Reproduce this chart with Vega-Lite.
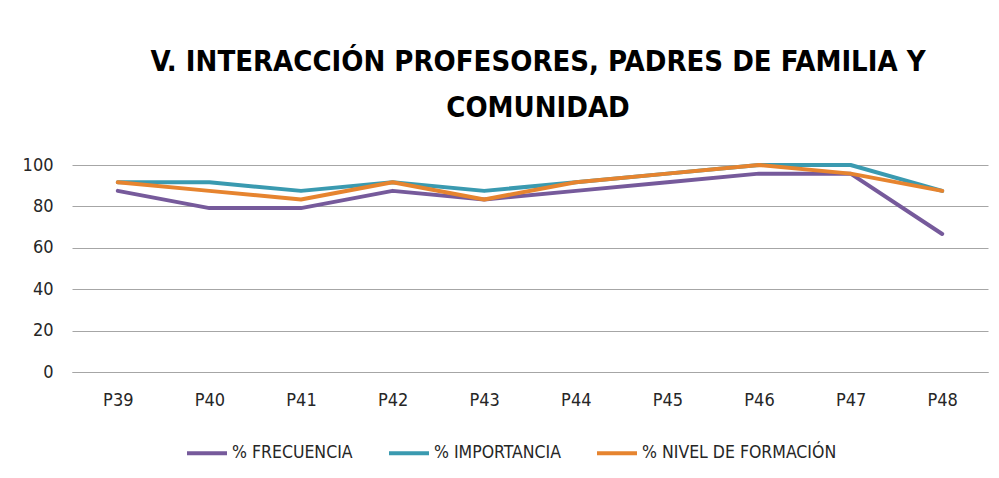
{
  "$schema": "https://vega.github.io/schema/vega-lite/v6.json",
  "autosize": {"type": "none"},
  "width": 916,
  "height": 207,
  "padding": {"left": 72, "top": 165, "right": 11, "bottom": 106},
  "background": "white",
  "title": {
    "text": ["V. INTERACCIÓN PROFESORES, PADRES DE FAMILIA Y", "COMUNIDAD"],
    "anchor": "middle",
    "font": "DejaVu Sans Condensed, sans-serif",
    "fontSize": 29,
    "fontWeight": "bold",
    "color": "#000000",
    "lineHeight": 46,
    "dx": 8,
    "offset": 33
  },
  "data": {
    "values": [
      {"p": "P39", "serie": "% FRECUENCIA", "v": 87.5},
      {"p": "P40", "serie": "% FRECUENCIA", "v": 79.17},
      {"p": "P41", "serie": "% FRECUENCIA", "v": 79.17},
      {"p": "P42", "serie": "% FRECUENCIA", "v": 87.5},
      {"p": "P43", "serie": "% FRECUENCIA", "v": 83.33},
      {"p": "P44", "serie": "% FRECUENCIA", "v": 87.5},
      {"p": "P45", "serie": "% FRECUENCIA", "v": 91.67},
      {"p": "P46", "serie": "% FRECUENCIA", "v": 95.83},
      {"p": "P47", "serie": "% FRECUENCIA", "v": 95.83},
      {"p": "P48", "serie": "% FRECUENCIA", "v": 66.67},
      {"p": "P39", "serie": "% IMPORTANCIA", "v": 91.67},
      {"p": "P40", "serie": "% IMPORTANCIA", "v": 91.67},
      {"p": "P41", "serie": "% IMPORTANCIA", "v": 87.5},
      {"p": "P42", "serie": "% IMPORTANCIA", "v": 91.67},
      {"p": "P43", "serie": "% IMPORTANCIA", "v": 87.5},
      {"p": "P44", "serie": "% IMPORTANCIA", "v": 91.67},
      {"p": "P45", "serie": "% IMPORTANCIA", "v": 95.83},
      {"p": "P46", "serie": "% IMPORTANCIA", "v": 100},
      {"p": "P47", "serie": "% IMPORTANCIA", "v": 100},
      {"p": "P48", "serie": "% IMPORTANCIA", "v": 87.5},
      {"p": "P39", "serie": "% NIVEL DE FORMACIÓN", "v": 91.67},
      {"p": "P40", "serie": "% NIVEL DE FORMACIÓN", "v": 87.5},
      {"p": "P41", "serie": "% NIVEL DE FORMACIÓN", "v": 83.33},
      {"p": "P42", "serie": "% NIVEL DE FORMACIÓN", "v": 91.67},
      {"p": "P43", "serie": "% NIVEL DE FORMACIÓN", "v": 83.33},
      {"p": "P44", "serie": "% NIVEL DE FORMACIÓN", "v": 91.67},
      {"p": "P45", "serie": "% NIVEL DE FORMACIÓN", "v": 95.83},
      {"p": "P46", "serie": "% NIVEL DE FORMACIÓN", "v": 100},
      {"p": "P47", "serie": "% NIVEL DE FORMACIÓN", "v": 95.83},
      {"p": "P48", "serie": "% NIVEL DE FORMACIÓN", "v": 87.5}
    ]
  },
  "mark": {"type": "line", "strokeWidth": 4, "strokeCap": "round", "strokeJoin": "round"},
  "encoding": {
    "x": {
      "field": "p",
      "type": "ordinal",
      "title": null,
      "scale": {"type": "point", "padding": 0.5},
      "axis": {
        "labelAngle": 0,
        "ticks": false,
        "domain": true,
        "domainColor": "#A6A6A6",
        "grid": false,
        "labelPadding": 19,
        "labelFont": "DejaVu Sans Condensed, sans-serif",
        "labelFontSize": 18,
        "labelColor": "#262626"
      }
    },
    "y": {
      "field": "v",
      "type": "quantitative",
      "title": null,
      "scale": {"domain": [0, 100], "nice": false},
      "axis": {
        "values": [0, 20, 40, 60, 80, 100],
        "ticks": false,
        "domain": false,
        "grid": true,
        "gridColor": "#A6A6A6",
        "gridWidth": 1,
        "labelPadding": 19,
        "labelFont": "DejaVu Sans Condensed, sans-serif",
        "labelFontSize": 18,
        "labelColor": "#262626"
      }
    },
    "color": {
      "field": "serie",
      "type": "nominal",
      "scale": {
        "domain": ["% FRECUENCIA", "% IMPORTANCIA", "% NIVEL DE FORMACIÓN"],
        "range": ["#765A9B", "#3A9AB0", "#E6842F"]
      },
      "legend": {
        "title": null,
        "orient": "none",
        "direction": "horizontal",
        "legendX": 113,
        "legendY": 266,
        "symbolType": "stroke",
        "symbolSize": 1600,
        "symbolStrokeWidth": 4,
        "labelOffset": 3,
        "columnPadding": 28,
        "labelFont": "DejaVu Sans Condensed, sans-serif",
        "labelFontSize": 17.5,
        "labelColor": "#262626",
        "labelLimit": 400
      }
    }
  },
  "config": {
    "view": {"stroke": null}
  }
}
